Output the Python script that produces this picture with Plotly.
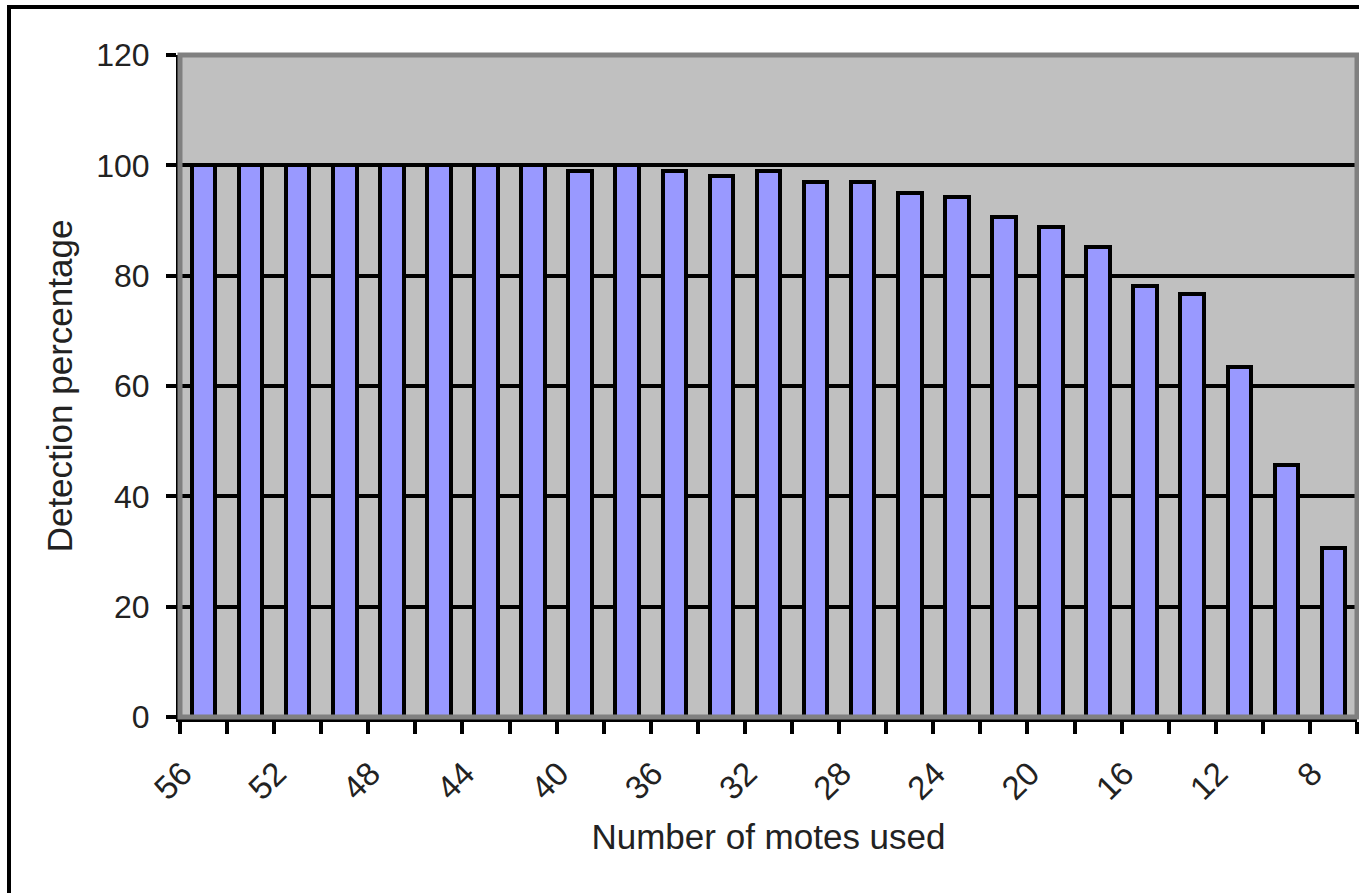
import plotly.graph_objects as go

# Data
motes = [56, 54, 52, 50, 48, 46, 44, 42, 40, 38, 36, 34, 32, 30, 28, 26, 24, 22, 20, 18, 16, 14, 12, 10, 8]
detection = [100, 100, 100, 100, 100, 100, 100, 100, 99, 100, 99, 98, 99, 97, 97, 95, 94.2, 90.7, 88.9, 85.2, 78.2, 76.6, 63.4, 45.6, 30.6]
tick_labels_x = [56, 52, 48, 44, 40, 36, 32, 28, 24, 20, 16, 12, 8]
y_ticks = [0, 20, 40, 60, 80, 100, 120]

W, H = 1359, 893
ML, MR, MT, MB = 180, 2, 55, 176
PW = W - ML - MR
PH = H - MT - MB

FONT = "Arial, 'Liberation Sans', sans-serif"
TXT = "#222222"

fig = go.Figure()
fig.add_trace(go.Bar(
    x=motes, y=detection, width=1.0,
    marker=dict(color="#9999FF", line=dict(color="black", width=4)),
    showlegend=False,
))

fig.update_layout(
    width=W, height=H,
    margin=dict(l=ML, r=MR, t=MT, b=MB, pad=0),
    paper_bgcolor="white", plot_bgcolor="#C0C0C0",
    font=dict(family=FONT, size=32, color=TXT),
    bargap=0,
)

fig.update_yaxes(
    range=[0, 120], tickvals=y_ticks, ticktext=[str(v) for v in y_ticks],
    showgrid=True, gridcolor="black", gridwidth=4,
    showline=True, linecolor="black", linewidth=4,
    ticks="outside", ticklen=10, tickwidth=4, tickcolor="black",
    ticklabelstandoff=10,
    zeroline=False,
    tickfont=dict(size=32, color=TXT, family=FONT),
    title=dict(text="Detection percentage", font=dict(size=35, color=TXT, family=FONT), standoff=14),
)

# labels are drawn slightly left of the bar centre, as in the original
label_pos = [v + 0.9 for v in tick_labels_x]
fig.update_xaxes(
    range=[57, 7],
    tickvals=label_pos, ticktext=[str(v) for v in tick_labels_x],
    tickangle=-45,
    ticks="", ticklabelstandoff=19,
    minor=dict(tickvals=[m + 1 for m in motes] + [motes[-1] - 1], ticks="outside",
               ticklen=12, tickwidth=4, tickcolor="black", showgrid=False),
    showgrid=False, zeroline=False,
    showline=True, linecolor="black", linewidth=5,
    tickfont=dict(size=33, color=TXT, family=FONT),
    title=dict(text="Number of motes used", font=dict(size=35, color=TXT, family=FONT), standoff=20),
)

# plot area border (gray)
fig.add_shape(type="rect", xref="paper", yref="paper", x0=0, x1=1, y0=0, y1=1,
              line=dict(color="#808080", width=5), fillcolor="rgba(0,0,0,0)", layer="above")
# outer chart frame
fig.add_shape(type="rect", xref="paper", yref="paper",
              x0=(9 - ML) / PW, x1=(W + 20 - ML) / PW,
              y0=-(MB + 20) / PH, y1=1 + (MT - 7) / PH,
              line=dict(color="black", width=4), fillcolor="rgba(0,0,0,0)", layer="above")

fig.write_html("out.html")
